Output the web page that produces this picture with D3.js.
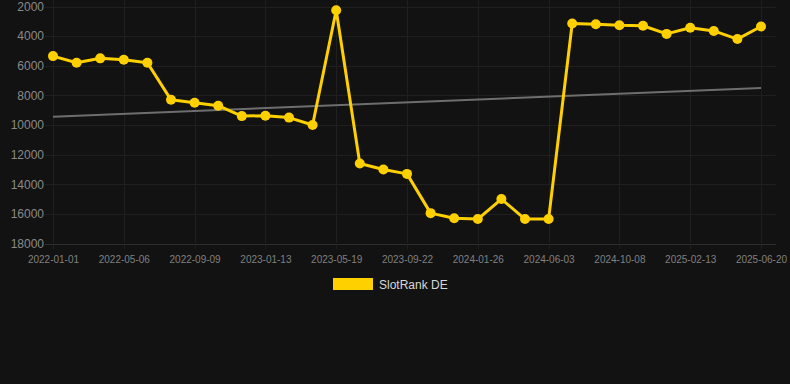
<!DOCTYPE html>
<html>
<head>
<meta charset="utf-8">
<script src="https://cdn.jsdelivr.net/npm/d3@7"></script>
<style>
  html, body { margin: 0; padding: 0; background: #121212; }
  svg { display: block; font-family: "Liberation Sans", Arial, sans-serif; }
</style>
</head>
<body>
<div id="chart"></div>
<script>
// dates, one point every ~6 weeks
const dates = [
  '2022-01-01', '2022-02-12', '2022-03-25', '2022-05-06', '2022-06-17', '2022-07-29',
  '2022-09-09', '2022-10-21', '2022-12-02', '2023-01-13', '2023-02-24', '2023-04-07',
  '2023-05-19', '2023-06-30', '2023-08-11', '2023-09-22', '2023-11-03', '2023-12-15',
  '2024-01-26', '2024-03-08', '2024-04-21', '2024-06-03', '2024-07-15', '2024-08-27',
  '2024-10-08', '2024-11-19', '2025-01-01', '2025-02-13', '2025-03-27', '2025-05-09',
  '2025-06-20'
];
const rankValues = [
  5350, 5800, 5500, 5600, 5800, 8300,
  8500, 8700, 9400, 9370, 9500, 10000,
  2250, 12600, 13000, 13300, 15950, 16300,
  16350, 15000, 16350, 16350, 3150, 3200,
  3270, 3300, 3850, 3430, 3650, 4200,
  3350
];
const trendValues = [9440, 7500];
const yTicks = [2000, 4000, 6000, 8000, 10000, 12000, 14000, 16000, 18000];
const seriesName = 'SlotRank DE';

const W = 790, H = 384;
const margin = { top: 6.5, right: 29, bottom: 140.5, left: 53 };
const gridLeft = 45, gridRight = 776;
const innerH = H - margin.top - margin.bottom;

const svg = d3.select('#chart').append('svg')
  .attr('width', W)
  .attr('height', H);

svg.append('rect').attr('width', W).attr('height', H).attr('fill', '#121212');

const x = d3.scalePoint()
  .domain(dates)
  .range([margin.left, W - margin.right]);

const y = d3.scaleLinear()
  .domain([2000, 18000])
  .range([margin.top, margin.top + innerH]);

const xTickDates = dates.filter((d, i) => i % 3 === 0);

// grid
svg.append('g')
  .selectAll('line')
  .data(yTicks)
  .enter().append('line')
  .attr('x1', gridLeft).attr('x2', gridRight)
  .attr('y1', d => Math.round(y(d)) + 0.5)
  .attr('y2', d => Math.round(y(d)) + 0.5)
  .attr('stroke', d => d === 18000 ? '#2e2e2e' : '#1f1f1f')
  .attr('stroke-width', 1);

svg.append('g')
  .selectAll('line')
  .data(xTickDates)
  .enter().append('line')
  .attr('x1', d => Math.round(x(d)) + 0.5)
  .attr('x2', d => Math.round(x(d)) + 0.5)
  .attr('y1', 0)
  .attr('y2', y(18000))
  .attr('stroke', '#1f1f1f');

// y axis labels
const yAxis = svg.append('g')
  .attr('transform', `translate(${margin.left},0)`)
  .call(d3.axisLeft(y).tickValues(yTicks).tickSize(0).tickPadding(9).tickFormat(d3.format('d')));
yAxis.select('.domain').remove();
yAxis.selectAll('text')
  .attr('fill', '#8a8a8a')
  .style('font-size', '12px');

// x axis labels
const xAxis = svg.append('g')
  .attr('transform', `translate(0,${Math.round(y(18000)) + 0.5})`)
  .call(d3.axisBottom(x).tickValues(xTickDates).tickSize(5).tickPadding(6));
xAxis.select('.domain').remove();
xAxis.selectAll('line').attr('stroke', '#1f1f1f');
xAxis.selectAll('text')
  .attr('fill', '#808080')
  .style('font-size', '10px');

// trend line
svg.append('line')
  .attr('x1', x(dates[0])).attr('y1', y(trendValues[0]))
  .attr('x2', x(dates[dates.length - 1])).attr('y2', y(trendValues[1]))
  .attr('stroke', '#6e6e6e')
  .attr('stroke-width', 2);

// series
const line = d3.line()
  .x((d, i) => x(dates[i]))
  .y(d => y(d));

svg.append('path')
  .datum(rankValues)
  .attr('d', line)
  .attr('fill', 'none')
  .attr('stroke', '#ffd000')
  .attr('stroke-width', 3)
  .attr('stroke-linejoin', 'round');

svg.append('g')
  .selectAll('circle')
  .data(rankValues)
  .enter().append('circle')
  .attr('cx', (d, i) => x(dates[i]))
  .attr('cy', d => y(d))
  .attr('r', 5)
  .attr('fill', '#ffd000');

// legend
const legend = svg.append('g').attr('transform', 'translate(333,278)');
legend.append('rect')
  .attr('width', 40).attr('height', 12)
  .attr('fill', '#ffd000');
legend.append('text')
  .attr('x', 46).attr('y', 10.5)
  .attr('fill', '#d8d8d8')
  .style('font-size', '12px')
  .text(seriesName);
</script>
</body>
</html>
